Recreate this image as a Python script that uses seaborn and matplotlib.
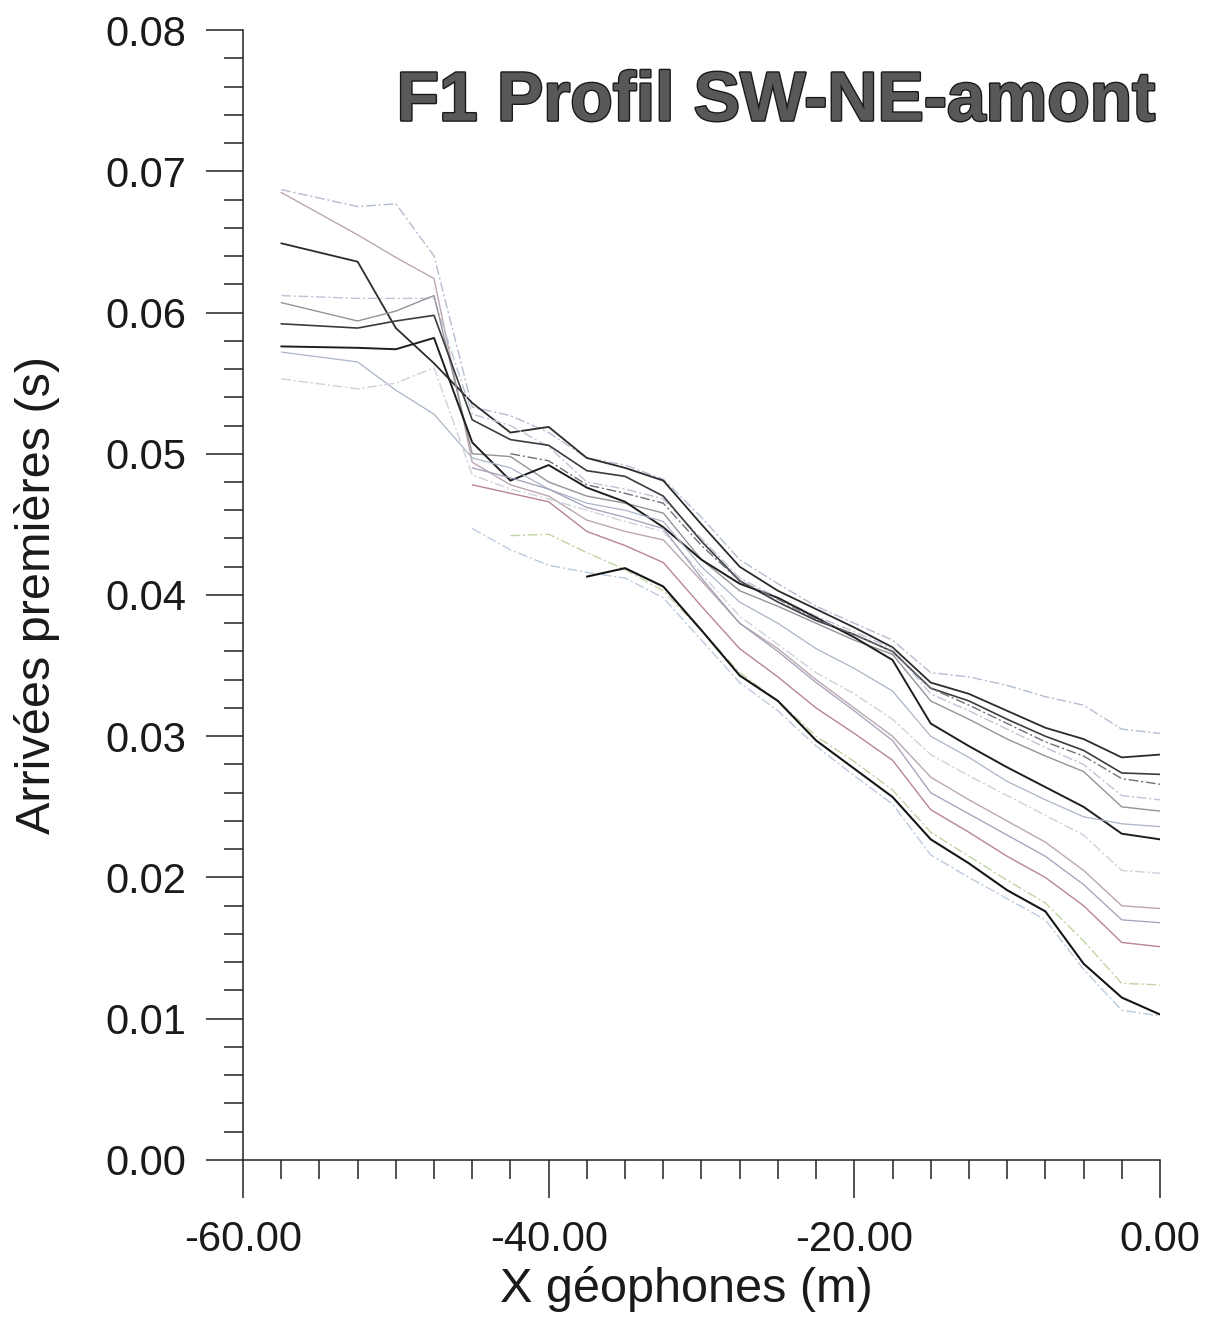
"""
Premières arrivées (sismique réfraction) - profil F1 SW-NE amont.
"""
import numpy as np
import pandas as pd
import matplotlib
matplotlib.use("Agg")
import matplotlib.pyplot as plt
import matplotlib.patheffects as pe
from matplotlib.ticker import MultipleLocator, FormatStrFormatter
import seaborn as sns

nan = np.nan

# positions des géophones (m)
x_geo = [-57.5, -52.5, -50, -47.5, -45, -42.5, -40, -37.5, -35, -32.5, -30,
         -27.5, -25, -22.5, -20, -17.5, -15, -12.5, -10, -7.5, -5, -2.5, 0]

# temps des premières arrivées (s), un tir par liste
tir_01 = [0.0687, 0.0675, 0.0677, 0.0640, 0.0533, 0.0527, 0.0515, 0.0497, 0.0492, 0.0482, 0.0455,
          0.0425, 0.0408, 0.0392, 0.0380, 0.0368, 0.0345, 0.0342, 0.0336, 0.0328, 0.0322, 0.0305, 0.0302]
tir_02 = [0.0685, 0.0655, 0.0639, 0.0624, 0.0494, 0.0478, 0.0470, 0.0453, 0.0445, 0.0439, 0.0410,
          0.0380, 0.0362, 0.0340, 0.0320, 0.0300, 0.0271, 0.0255, 0.0240, 0.0225, 0.0205, 0.0180, 0.0178]
tir_03 = [0.0649, 0.0636, 0.0589, 0.0564, 0.0536, 0.0515, 0.0519, 0.0497, 0.0490, 0.0481, 0.0450,
          0.0420, 0.0403, 0.0390, 0.0377, 0.0363, 0.0338, 0.0330, 0.0318, 0.0306, 0.0298, 0.0285, 0.0287]
tir_04 = [0.0612, 0.0610, 0.0610, 0.0610, 0.0528, 0.0520, 0.0505, 0.0480, 0.0475, 0.0468, 0.0440,
          0.0412, 0.0398, 0.0385, 0.0374, 0.0362, 0.0330, 0.0318, 0.0305, 0.0292, 0.0280, 0.0258, 0.0255]
tir_05 = [0.0607, 0.0594, 0.0601, 0.0612, 0.0500, 0.0498, 0.0480, 0.0470, 0.0465, 0.0458, 0.0425,
          0.0403, 0.0392, 0.0380, 0.0368, 0.0358, 0.0325, 0.0312, 0.0298, 0.0286, 0.0275, 0.0250, 0.0247]
tir_06 = [0.0592, 0.0589, 0.0594, 0.0598, 0.0524, 0.0510, 0.0506, 0.0488, 0.0484, 0.0470, 0.0438,
          0.0410, 0.0395, 0.0382, 0.0372, 0.0360, 0.0334, 0.0325, 0.0312, 0.0300, 0.0290, 0.0274, 0.0273]
tir_07 = [0.0576, 0.0575, 0.0574, 0.0582, 0.0508, 0.0481, 0.0492, 0.0476, 0.0466, 0.0448, 0.0425,
          0.0408, 0.0398, 0.0384, 0.0370, 0.0354, 0.0309, 0.0293, 0.0278, 0.0264, 0.0250, 0.0231, 0.0227]
tir_08 = [0.0572, 0.0565, 0.0545, 0.0528, 0.0497, 0.0490, 0.0475, 0.0465, 0.0460, 0.0452, 0.0420,
          0.0395, 0.0380, 0.0362, 0.0348, 0.0332, 0.0300, 0.0285, 0.0268, 0.0255, 0.0243, 0.0238, 0.0236]
tir_09 = [0.0553, 0.0546, 0.0550, 0.0561, 0.0485, 0.0475, 0.0468, 0.0460, 0.0452, 0.0445, 0.0415,
          0.0385, 0.0365, 0.0345, 0.0330, 0.0312, 0.0287, 0.0272, 0.0258, 0.0244, 0.0230, 0.0205, 0.0203]
tir_10 = [nan, nan, nan, nan, 0.0478, 0.0472, 0.0466, 0.0445, 0.0435, 0.0423, 0.0392,
          0.0362, 0.0342, 0.0320, 0.0302, 0.0283, 0.0248, 0.0232, 0.0215, 0.0200, 0.0180, 0.0154, 0.0151]
tir_11 = [nan, nan, nan, nan, 0.0490, 0.0483, 0.0475, 0.0462, 0.0455, 0.0447, 0.0412,
          0.0380, 0.0360, 0.0338, 0.0318, 0.0297, 0.0260, 0.0245, 0.0230, 0.0215, 0.0195, 0.0170, 0.0168]
tir_12 = [nan, nan, nan, nan, 0.0447, 0.0432, 0.0421, 0.0416, 0.0412, 0.0398, 0.0368,
          0.0338, 0.0318, 0.0293, 0.0272, 0.0252, 0.0216, 0.0200, 0.0185, 0.0170, 0.0135, 0.0106, 0.0102]
tir_13 = [nan, nan, nan, nan, nan, 0.0442, 0.0443, 0.0430, 0.0418, 0.0403, 0.0375,
          0.0345, 0.0325, 0.0300, 0.0282, 0.0262, 0.0232, 0.0215, 0.0198, 0.0182, 0.0155, 0.0125, 0.0124]
tir_14 = [nan, nan, nan, nan, nan, nan, nan, 0.0413, 0.0419, 0.0406, 0.0375,
          0.0343, 0.0325, 0.0297, 0.0277, 0.0257, 0.0227, 0.0210, 0.0191, 0.0176, 0.0139, 0.0115, 0.0103]
tir_15 = [nan, nan, nan, nan, nan, 0.0500, 0.0495, 0.0478, 0.0472, 0.0465, 0.0435,
          0.0410, 0.0397, 0.0383, 0.0372, 0.0360, 0.0334, 0.0322, 0.0309, 0.0296, 0.0286, 0.0270, 0.0266]

tirs = [tir_01, tir_02, tir_03, tir_04, tir_05, tir_06, tir_07, tir_08,
        tir_09, tir_10, tir_11, tir_12, tir_13, tir_14, tir_15]

dashdot = (0, (7, 2, 1.5, 2))
# couleur, style, épaisseur pour chaque tir
styles = [("#b3bdd0", dashdot, 1.0),
          ("#bba6b2", "-", 1.0),
          ("#2b2b2b", "-", 1.3),
          ("#bcc5d6", dashdot, 1.0),
          ("#93939b", "-", 1.0),
          ("#3c3c40", "-", 1.2),
          ("#1e1e1e", "-", 1.4),
          ("#aab5c7", "-", 0.9),
          ("#cdd2dc", dashdot, 1.0),
          ("#b98494", "-", 1.0),
          ("#a29eb8", "-", 0.9),
          ("#bccbdf", dashdot, 1.0),
          ("#c0d4a4", dashdot, 1.0),
          ("#151515", "-", 1.5),
          ("#707079", dashdot, 1.0)]

sns.set_style("white")
plt.rcParams["font.family"] = ["Liberation Sans", "DejaVu Sans"]

fig = plt.figure(figsize=(12.15, 13.29), dpi=100)
ax = fig.add_axes([0.2, 0.1272, 0.7547, 0.8502])

for vals, (col, ls, lw) in zip(tirs, styles):
    df = pd.DataFrame({"x": x_geo, "t": vals}).dropna()
    sns.lineplot(data=df, x="x", y="t", estimator=None, sort=False,
                 color=col, linestyle=ls, linewidth=lw, ax=ax)

ax.set_xlim(-60, 0)
ax.set_ylim(0, 0.08)
ax.xaxis.set_major_locator(MultipleLocator(20))
ax.xaxis.set_minor_locator(MultipleLocator(2.5))
ax.yaxis.set_major_locator(MultipleLocator(0.01))
ax.yaxis.set_minor_locator(MultipleLocator(0.002))
ax.xaxis.set_major_formatter(FormatStrFormatter("%.2f"))
ax.yaxis.set_major_formatter(FormatStrFormatter("%.2f"))

for side in ["top", "right"]:
    ax.spines[side].set_visible(False)
for side in ["left", "bottom"]:
    ax.spines[side].set_color("#222222")
    ax.spines[side].set_linewidth(1.1)

ax.tick_params(which="major", direction="out", length=27, width=1.1,
               color="#222222", labelsize=30, labelcolor="#1a1a1a", pad=14,
               bottom=True, left=True)
ax.tick_params(which="minor", direction="out", length=14, width=1.1,
               color="#222222", bottom=True, left=True)
ax.tick_params(axis="x", which="major", pad=16)

ax.set_xlabel("X géophones (m)", fontsize=35, color="#1a1a1a")
ax.set_ylabel("Arrivées premières (s)", fontsize=35, color="#1a1a1a")
ax.xaxis.set_label_coords(0.483, -0.094)
ax.yaxis.set_label_coords(-0.200, 0.5)

ax.text(0.995, 0.92, "F1 Profil SW-NE-amont", transform=ax.transAxes,
        ha="right", va="baseline", fontsize=50, fontweight="bold",
        color="#585858",
        path_effects=[pe.withStroke(linewidth=2.0, foreground="#1a1a1a")])

fig.savefig("out.png", dpi=100, facecolor="white")
